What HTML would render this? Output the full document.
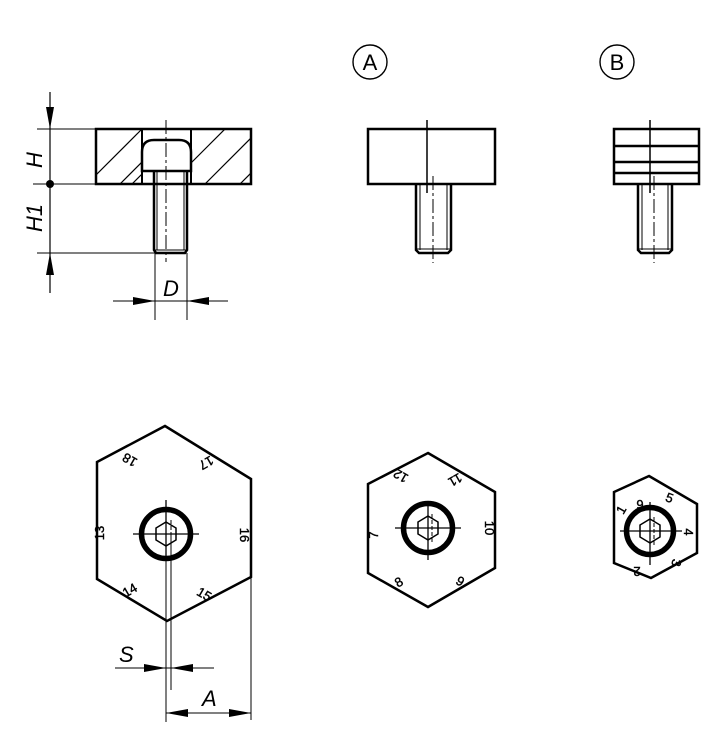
<!DOCTYPE html>
<html><head><meta charset="utf-8"><style>
html,body{margin:0;padding:0;background:#fff;}
svg{display:block}
text{font-family:"Liberation Sans",sans-serif;fill:#000}
.t{font-style:italic;font-size:22px}
.n text{font-size:13px;stroke:#000;stroke-width:0.4}
</style></head><body>
<svg width="721" height="750" viewBox="0 0 721 750" xmlns="http://www.w3.org/2000/svg">
<defs>
<clipPath id="c1"><rect x="96" y="129" width="46" height="55"/><rect x="191" y="129" width="60" height="55"/></clipPath>
</defs>
<g stroke="#000" fill="none" stroke-linecap="butt">
<rect x="96" y="129" width="155" height="55" stroke-width="2.5"/>
<g clip-path="url(#c1)" stroke-width="1.2">
<line x1="96" y1="175" x2="142" y2="129"/><line x1="120" y1="184" x2="175" y2="129"/>
<line x1="132" y1="184" x2="187" y2="129"/>
<line x1="191" y1="163" x2="230" y2="124"/><line x1="205" y1="184" x2="260" y2="129"/>
<line x1="240" y1="184" x2="275" y2="149"/>
</g>
<line x1="142" y1="129" x2="142" y2="184" stroke-width="2"/>
<line x1="191" y1="129" x2="191" y2="184" stroke-width="2"/>
<path d="M142 171 V152 Q142 140 154 140 H179 Q191 140 191 152 V171 Z" stroke-width="2.5" fill="#fff"/>
<path d="M154 171 V250 L156 253 H185 L187 250 V171" stroke-width="2.5"/>
<line x1="157" y1="171" x2="157" y2="250" stroke-width="1"/>
<line x1="184" y1="171" x2="184" y2="250" stroke-width="1"/>
<line x1="155" y1="250" x2="187" y2="250" stroke-width="1"/>
<line x1="166" y1="120" x2="166" y2="262" stroke-width="1" stroke-dasharray="14,3,3,3"/>
<line x1="50" y1="92" x2="50" y2="293" stroke-width="1.2"/>
<line x1="37" y1="129" x2="96" y2="129" stroke-width="1"/>
<line x1="33" y1="184" x2="96" y2="184" stroke-width="1"/>
<line x1="37" y1="253" x2="155" y2="253" stroke-width="1"/>
<line x1="155" y1="253" x2="155" y2="320" stroke-width="1"/>
<line x1="187" y1="253" x2="187" y2="320" stroke-width="1"/>
<line x1="113" y1="301" x2="228" y2="301" stroke-width="1"/>
<circle cx="370" cy="62" r="17" stroke-width="1.4"/>
<rect x="368" y="129" width="127" height="55" stroke-width="2.5"/>
<line x1="427" y1="120" x2="427" y2="193" stroke-width="1.5"/>
<path d="M416 184 V250 L419 253 H448 L451 250 V184" stroke-width="2.5"/>
<line x1="420" y1="184" x2="420" y2="250" stroke-width="1"/>
<line x1="447" y1="184" x2="447" y2="250" stroke-width="1"/>
<line x1="417" y1="249" x2="450" y2="249" stroke-width="1"/>
<line x1="433" y1="176" x2="433" y2="263" stroke-width="1" stroke-dasharray="14,3,3,3"/>
<circle cx="617" cy="62" r="17" stroke-width="1.4"/>
<rect x="614" y="129" width="85" height="55" stroke-width="2.5"/>
<line x1="614" y1="146" x2="699" y2="146" stroke-width="2.5"/>
<line x1="614" y1="162" x2="699" y2="162" stroke-width="2.5"/>
<line x1="614" y1="173" x2="699" y2="173" stroke-width="2.5"/>
<line x1="650" y1="120" x2="650" y2="193" stroke-width="1.5"/>
<path d="M638 184 V250 L641 253 H669 L672 250 V184" stroke-width="2.5"/>
<line x1="642" y1="184" x2="642" y2="250" stroke-width="1"/>
<line x1="668" y1="184" x2="668" y2="250" stroke-width="1"/>
<line x1="639" y1="249" x2="671" y2="249" stroke-width="1"/>
<line x1="654" y1="176" x2="654" y2="263" stroke-width="1" stroke-dasharray="14,3,3,3"/>
<polygon points="165,426 251,479 251,577 167,621 97,579 97,462" stroke-width="2.5"/>
<line x1="166" y1="534" x2="166" y2="722" stroke-width="1"/>
<line x1="171" y1="534" x2="171" y2="690" stroke-width="1"/>
<line x1="251" y1="577" x2="251" y2="720" stroke-width="1"/>
<circle cx="166" cy="534" r="24.5" stroke-width="5.5"/>
<polygon points="166,522 176,528 176,540 166,546 156,540 156,528" stroke-width="1.5"/>
<line x1="133" y1="534" x2="199" y2="534" stroke-width="1.3"/>
<line x1="166" y1="500" x2="166" y2="560" stroke-width="1.3"/>
<line x1="171" y1="520" x2="171" y2="548" stroke-width="1" stroke-dasharray="4,2"/>
<line x1="115" y1="668" x2="214" y2="668" stroke-width="1"/>
<line x1="166" y1="713" x2="251" y2="713" stroke-width="1"/>
<polygon points="428,453 495,492 495,568 428,607 368,573 368,484" stroke-width="2.5"/>
<circle cx="428" cy="528" r="24.5" stroke-width="5.5"/>
<polygon points="428,516 438,522 438,534 428,540 418,534 418,522" stroke-width="1.5"/>
<line x1="395" y1="528" x2="461" y2="528" stroke-width="1.3"/>
<line x1="428" y1="501" x2="428" y2="560" stroke-width="1.3"/>
<line x1="432" y1="514" x2="432" y2="542" stroke-width="1" stroke-dasharray="4,2"/>
<polygon points="649,476 697,504 697,553 651,578 614,563 614,492" stroke-width="2.5"/>
<circle cx="650" cy="531" r="23.5" stroke-width="5.5"/>
<polygon points="650,519 660,525 660,537 650,543 640,537 640,525" stroke-width="1.5"/>
<line x1="620" y1="531" x2="682" y2="531" stroke-width="1.3"/>
<line x1="650" y1="502" x2="650" y2="565" stroke-width="1.3"/>
<line x1="654" y1="517" x2="654" y2="545" stroke-width="1" stroke-dasharray="4,2"/>
</g>
<g fill="#000">
<polygon points="50,129 46,107 54,107"/>
<polygon points="50,253 46,275 54,275"/>
<circle cx="50" cy="184" r="4"/>
<polygon points="155,301 133,297 133,305"/>
<polygon points="187,301 209,297 209,305"/>
<polygon points="166,668 144,664 144,672"/>
<polygon points="171,668 193,664 193,672"/>
<polygon points="166,713 188,709 188,717"/>
<polygon points="251,713 229,709 229,717"/>
</g>
<text class="t" transform="translate(42,168) rotate(-90)">H</text>
<text class="t" transform="translate(42,232) rotate(-90)">H1</text>
<text class="t" x="163" y="296">D</text>
<text class="t" x="119" y="662">S</text>
<text class="t" x="202" y="706">A</text>
<text x="370" y="70" font-size="22" text-anchor="middle">A</text>
<text x="617" y="70" font-size="22" text-anchor="middle">B</text>
<g class="n">
<text transform="translate(132,456) rotate(210)" text-anchor="middle">18</text>
<text transform="translate(204,459) rotate(150)" text-anchor="middle">17</text>
<text transform="translate(104,533) rotate(270)" text-anchor="middle">13</text>
<text transform="translate(240,535) rotate(90)" text-anchor="middle">16</text>
<text transform="translate(132,594) rotate(330)" text-anchor="middle">14</text>
<text transform="translate(202,598) rotate(30)" text-anchor="middle">15</text>
<text transform="translate(403,472) rotate(210)" text-anchor="middle">12</text>
<text transform="translate(453,476) rotate(150)" text-anchor="middle">11</text>
<text transform="translate(378,535) rotate(270)" text-anchor="middle">7</text>
<text transform="translate(485,528) rotate(90)" text-anchor="middle">10</text>
<text transform="translate(401,586) rotate(330)" text-anchor="middle">8</text>
<text transform="translate(458,585) rotate(30)" text-anchor="middle">9</text>
<text transform="translate(625,512) rotate(300)" text-anchor="middle">1</text>
<text transform="translate(640,500) rotate(180)" text-anchor="middle">6</text>
<text transform="translate(668,502) rotate(20)" text-anchor="middle">5</text>
<text transform="translate(684,532) rotate(90)" text-anchor="middle">4</text>
<text transform="translate(672,562) rotate(100)" text-anchor="middle">3</text>
<text transform="translate(637,567) rotate(180)" text-anchor="middle">2</text>
</g>
</svg>
</body></html>
